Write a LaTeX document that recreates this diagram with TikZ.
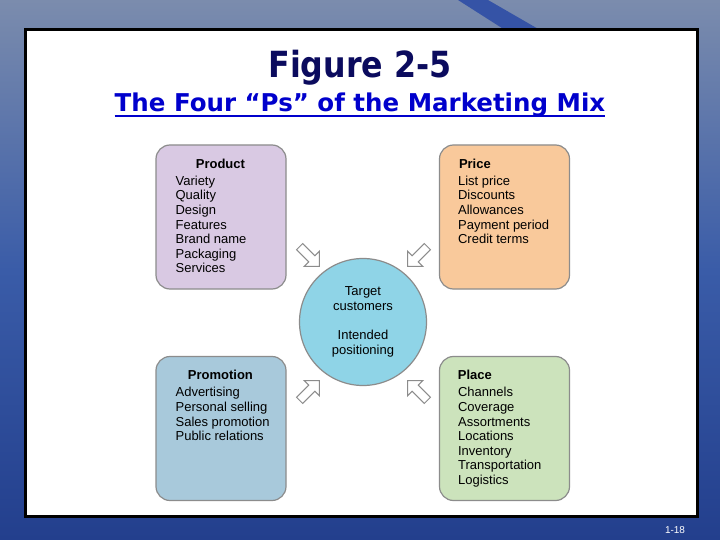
\documentclass[tikz,border=0pt]{standalone}
\usepackage{fontspec}
\setmainfont{Liberation Sans}
\newfontfamily\titlefont[FakeStretch=0.88]{DejaVu Sans}
\newfontfamily\subfont{DejaVu Sans}
\usepackage{tikz}
\usetikzlibrary{calc,shapes.arrows}
\definecolor{bgtop}{HTML}{7B8CAD}
\definecolor{bgmid}{HTML}{3A5CA8}
\definecolor{bgbot}{HTML}{233F8D}
\definecolor{streak}{HTML}{3553A6}
\definecolor{navy}{HTML}{0B0B5E}
\definecolor{linkblue}{HTML}{0000CC}
\definecolor{edge}{HTML}{8C8C8C}
\definecolor{prodfill}{HTML}{D9C9E3}
\definecolor{pricefill}{HTML}{F9C99B}
\definecolor{promofill}{HTML}{A8C9DB}
\definecolor{placefill}{HTML}{CCE3BC}
\definecolor{custfill}{HTML}{8FD4E7}
\tikzset{
  panel/.style={draw=black, fill=white, line width=3pt},
  pbox/.style={draw=edge, line width=1.2pt, rounded corners=14pt, minimum width=130pt, minimum height=144pt, inner sep=0pt},
  head/.style={font=\bfseries\fontsize{13}{15}\selectfont, inner sep=0pt},
  items/.style={font=\fontsize{13}{14.6}\selectfont, align=left, anchor=north west, inner sep=0pt},
  hollow/.style={single arrow, draw=edge, fill=white, line width=1pt, minimum height=28pt, inner sep=3.8pt, single arrow head extend=6.5pt, single arrow head indent=0pt},
  pagenum/.style={text=white, font=\fontsize{10}{11}\selectfont, inner sep=0pt},
}
\begin{document}
\begin{tikzpicture}[x=1pt, y=-1pt]
  \useasboundingbox (0,0) rectangle (720,540);

  % backdrop and white panel
  \shade[top color=bgtop, bottom color=bgmid] (0,0) rectangle (720,270);
  \shade[top color=bgmid, bottom color=bgbot] (0,270) rectangle (720,540);
  \fill[streak] (458,0) -- (488,0) -- (540,30) -- (505,30) -- cycle;
  \draw[panel] (25,30) rectangle (697,516);

  % titles
  \node[text=navy, font=\titlefont\bfseries\fontsize{36}{40}\selectfont, inner sep=0pt, anchor=base] (title) at (360,78) {Figure 2-5};
  \node[text=linkblue, font=\subfont\bfseries\fontsize{24.5}{28}\selectfont, inner sep=0pt, anchor=base] (sub) at (360,112) {The Four “Ps” of the Marketing Mix};
  \draw[linkblue, line width=2pt] ($(sub.base west)+(0,4.5)$) -- ($(sub.base east)+(0,4.5)$);

  % the four Ps
  \node[pbox, fill=prodfill] (prod) at (221,217) {};
  \node[pbox, fill=pricefill] (price) at (504.5,217) {};
  \node[pbox, fill=promofill] (promo) at (221,428.5) {};
  \node[pbox, fill=placefill] (place) at (504.5,428.5) {};

  \node[head] (prodh) at ($(prod.north west)+(65,19)$) {Product};
  \node[items] (prodl) at ($(prod.north west)+(20,31.3)$)
    {Variety\\Quality\\Design\\Features\\Brand name\\Packaging\\Services};

  \node[head] (priceh) at ($(price.north west)+(36,19)$) {Price};
  \node[items] (pricel) at ($(price.north west)+(19,31.3)$)
    {List price\\Discounts\\Allowances\\Payment period\\Credit terms};

  \node[head] (promoh) at ($(promo.north west)+(65,19)$) {Promotion};
  \node[items] (promol) at ($(promo.north west)+(20,31.3)$)
    {Advertising\\Personal selling\\Sales promotion\\Public relations};

  \node[head] (placeh) at ($(place.north west)+(36,19)$) {Place};
  \node[items] (placel) at ($(place.north west)+(19,31.3)$)
    {Channels\\Coverage\\Assortments\\Locations\\Inventory\\Transportation\\Logistics};

  % target customers
  \node[circle, draw=edge, line width=1.2pt, fill=custfill, minimum size=127pt, inner sep=0pt,
        align=center, font=\fontsize{13}{14.8}\selectfont] (cust) at (363,322)
    {Target\\customers\\[14.8pt]Intended\\positioning};

  % hollow arrows toward the circle
  \node[hollow, rotate=-45] (arrpr) at (308,255) {};
  \node[hollow, rotate=-135] (arrpc) at (419,255) {};
  \node[hollow, rotate=45] (arrpm) at (308,392) {};
  \node[hollow, rotate=135] (arrpl) at (419,392) {};

  \node[pagenum] (pnum) at (675,530) {1-18};
\end{tikzpicture}
\end{document}
